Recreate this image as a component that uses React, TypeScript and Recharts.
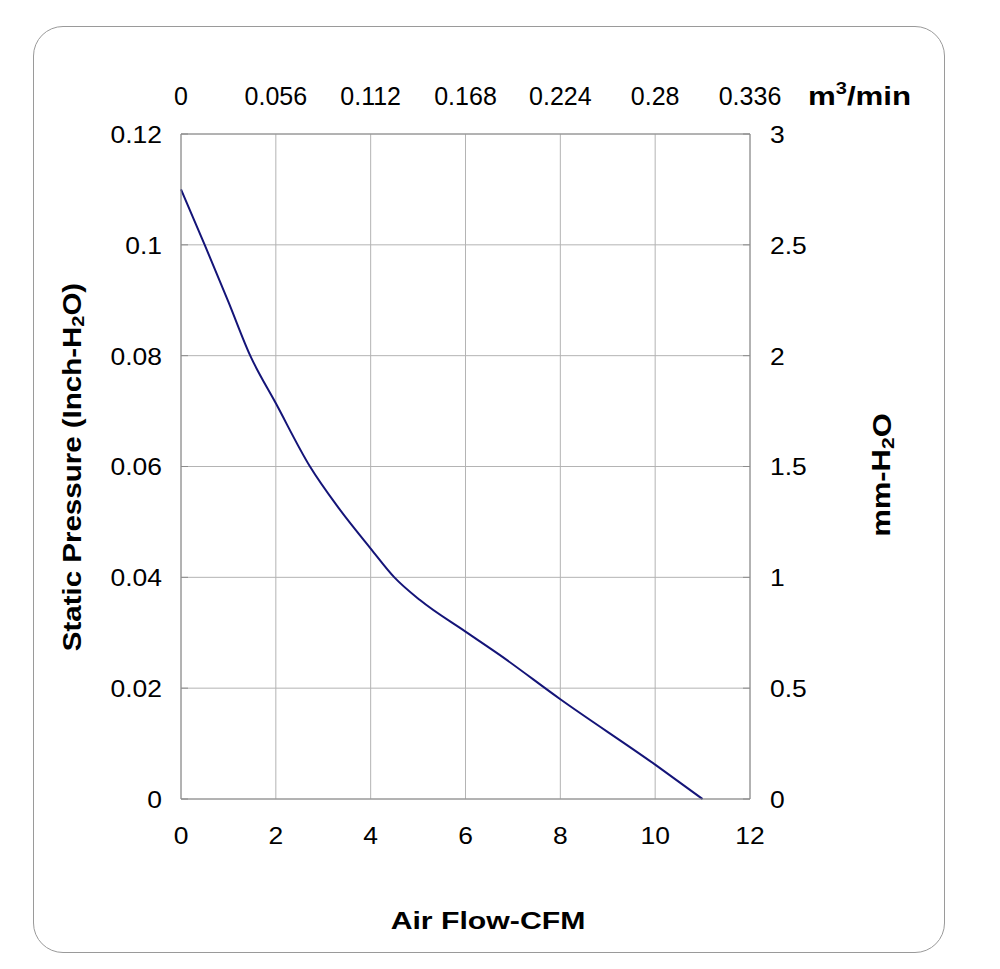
import React from "react";
import { LineChart, Line, XAxis, YAxis, CartesianGrid } from "recharts";

const flowCFM = [0, 0.5, 1.0, 1.46, 2.0, 2.72, 3.3, 4.0, 4.5, 5.04, 6.0, 6.72, 8.0, 10.0, 11.0];
const pressureInch = [0.11, 0.1, 0.0897, 0.08, 0.0714, 0.06, 0.0528, 0.0452, 0.04, 0.0359, 0.0302, 0.026, 0.018, 0.0062, 0];

const cfmTicks = [0, 2, 4, 6, 8, 10, 12];
const m3Labels = ["0", "0.056", "0.112", "0.168", "0.224", "0.28", "0.336"];
const inchTicks = [0, 0.02, 0.04, 0.06, 0.08, 0.1, 0.12];
const mmTicks = [0, 0.5, 1, 1.5, 2, 2.5, 3];

const data = flowCFM.map((x, i) => ({ x, y: pressureInch[i] }));

const FONT = "'Liberation Sans', Arial, Helvetica, sans-serif";
const GRID = "#b4b4b4";
const AXIS = "#8c8c8c";

const LeftTick = (props: any) => {
  const { x, y, payload } = props;
  return (
    <g>
      <line x1={x} y1={y} x2={x + 7} y2={y} stroke={AXIS} strokeWidth={1} />
      <text
        transform={`translate(${x - 19},${y + 1}) scale(1.15,1)`}
        textAnchor="end"
        dominantBaseline="central"
        fontFamily={FONT}
        fontSize={23}
        fill="#000"
      >
        {String(payload.value)}
      </text>
    </g>
  );
};

const RightTick = (props: any) => {
  const { x, y, payload } = props;
  return (
    <g>
      <line x1={x - 7} y1={y} x2={x} y2={y} stroke={AXIS} strokeWidth={1} />
      <text
        transform={`translate(${x + 20},${y + 1}) scale(1.15,1)`}
        textAnchor="start"
        dominantBaseline="central"
        fontFamily={FONT}
        fontSize={23}
        fill="#000"
      >
        {String(payload.value)}
      </text>
    </g>
  );
};

const BottomTick = (props: any) => {
  const { x, y, payload } = props;
  return (
    <text
      transform={`translate(${x},${y + 37}) scale(1.15,1)`}
      textAnchor="middle"
      dominantBaseline="central"
      fontFamily={FONT}
      fontSize={23}
      fill="#000"
    >
      {String(payload.value)}
    </text>
  );
};

const TopTick = (props: any) => {
  const { x, y, payload, index } = props;
  return (
    <text
      x={x}
      y={y - 38}
      textAnchor="middle"
      dominantBaseline="central"
      fontFamily={FONT}
      fontSize={25}
      fill="#000"
    >
      {m3Labels[index] ?? String(payload.value)}
    </text>
  );
};

const BottomTitle = () => (
  <text
    transform="translate(488,921) scale(1.26,1)"
    textAnchor="middle"
    dominantBaseline="central"
    fontFamily={FONT}
    fontWeight="bold"
    fontSize={24}
    fill="#000"
  >
    Air Flow-CFM
  </text>
);

const TopTitle = () => (
  <text
    transform="translate(808,105) scale(1.25,1)"
    textAnchor="start"
    fontFamily={FONT}
    fontWeight="bold"
    fontSize={25}
    fill="#000"
  >
    m<tspan fontSize={16} dy={-11}>3</tspan>
    <tspan dy={11}>/min</tspan>
  </text>
);

const LeftTitle = () => (
  <text
    transform="translate(72,467) rotate(-90) scale(1.18,1)"
    textAnchor="middle"
    dominantBaseline="central"
    fontFamily={FONT}
    fontWeight="bold"
    fontSize={25}
    fill="#000"
  >
    Static Pressure (Inch-H<tspan fontSize={17} dy={6}>2</tspan>
    <tspan dy={-6}>O)</tspan>
  </text>
);

const RightTitle = () => (
  <text
    transform="translate(882,475) rotate(-90) scale(1.24,1)"
    textAnchor="middle"
    dominantBaseline="central"
    fontFamily={FONT}
    fontWeight="bold"
    fontSize={25}
    fill="#000"
  >
    mm-H<tspan fontSize={17} dy={6}>2</tspan>
    <tspan dy={-6}>O</tspan>
  </text>
);

export default function App() {
  return (
    <div style={{ position: "absolute", left: 0, top: 0, width: 1000, height: 969, background: "#fff" }}>
      <div
        style={{
          position: "absolute",
          left: 33,
          top: 26,
          width: 912,
          height: 927,
          border: "1.5px solid #9a9a9a",
          borderRadius: 30,
          boxSizing: "border-box",
        }}
      />
      <div style={{ position: "absolute", left: 0, top: 0 }}>
        <LineChart
          width={1000}
          height={969}
          data={data}
          margin={{ top: 84, left: 81, right: 150, bottom: 120 }}
        >
          <CartesianGrid
            xAxisId="bottom"
            yAxisId="left"
            stroke={GRID}
            strokeWidth={1}
            horizontalValues={inchTicks}
            verticalValues={cfmTicks}
          />
          <XAxis
            xAxisId="bottom"
            dataKey="x"
            type="number"
            domain={[0, 12]}
            ticks={cfmTicks}
            orientation="bottom"
            height={50}
            tickSize={0}
            tickMargin={0}
            tickLine={false}
            axisLine={{ stroke: AXIS }}
            tick={<BottomTick />}
            interval={0}
            label={{ content: () => <BottomTitle /> }}
          />
          <XAxis
            xAxisId="top"
            dataKey="x"
            type="number"
            domain={[0, 12]}
            ticks={cfmTicks}
            orientation="top"
            height={50}
            tickSize={0}
            tickMargin={0}
            tickLine={false}
            axisLine={{ stroke: AXIS }}
            tick={<TopTick />}
            interval={0}
            label={{ content: () => <TopTitle /> }}
          />
          <YAxis
            yAxisId="left"
            type="number"
            domain={[0, 0.12]}
            ticks={inchTicks}
            width={100}
            tickSize={0}
            tickMargin={0}
            tickLine={false}
            axisLine={{ stroke: AXIS }}
            tick={<LeftTick />}
            interval={0}
            label={{ content: () => <LeftTitle /> }}
          />
          <YAxis
            yAxisId="right"
            orientation="right"
            type="number"
            domain={[0, 3]}
            allowDataOverflow
            ticks={mmTicks}
            width={100}
            tickSize={0}
            tickMargin={0}
            tickLine={false}
            axisLine={{ stroke: AXIS }}
            tick={<RightTick />}
            interval={0}
            label={{ content: () => <RightTitle /> }}
          />
          <Line
            xAxisId="top"
            yAxisId="right"
            dataKey="y"
            type="monotone"
            stroke="none"
            dot={false}
            activeDot={false}
            legendType="none"
            isAnimationActive={false}
          />
          <Line
            xAxisId="bottom"
            yAxisId="left"
            dataKey="y"
            type="monotone"
            stroke="#141478"
            strokeWidth={2}
            dot={false}
            isAnimationActive={false}
          />
        </LineChart>
      </div>
    </div>
  );
}
